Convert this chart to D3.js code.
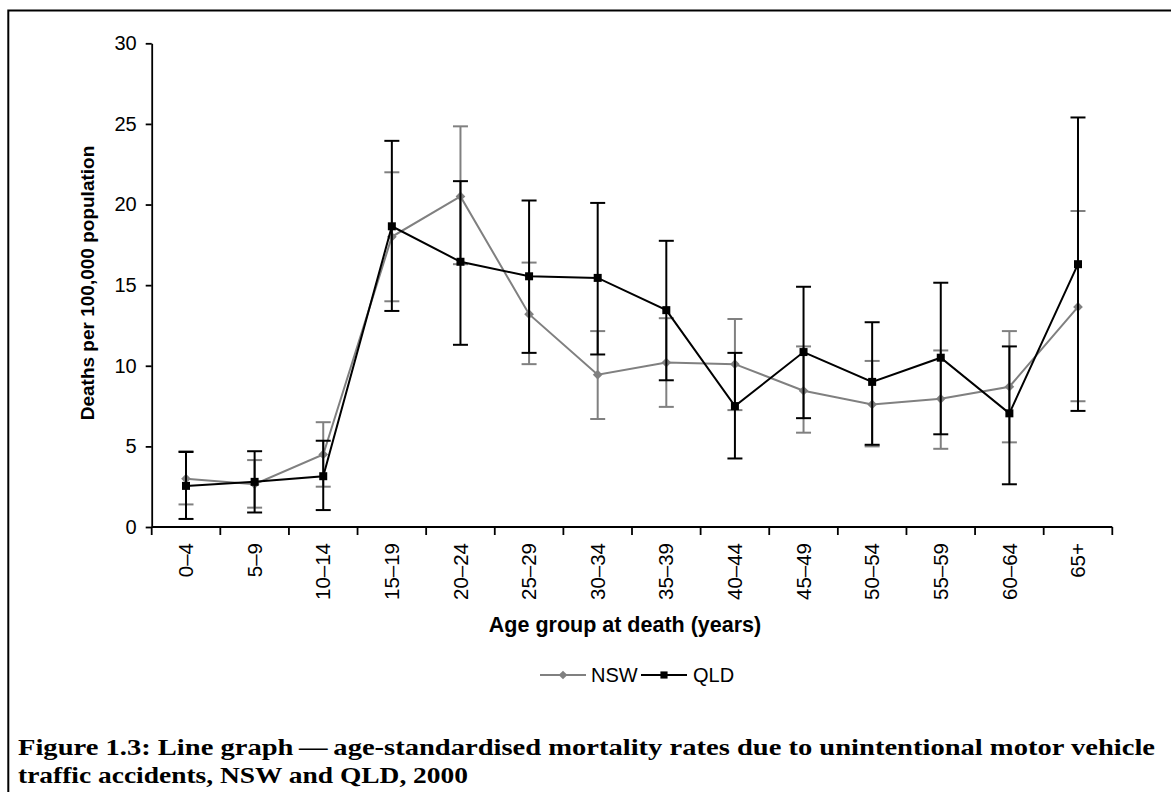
<!DOCTYPE html>
<html>
<head>
<meta charset="utf-8">
<script src="https://cdn.jsdelivr.net/npm/d3@7"></script>
<style>
  html, body { margin: 0; padding: 0; background: #fff; }
  svg { display: block; }
</style>
</head>
<body>
<script>
// ---- data ----
const categories = ["0–4","5–9","10–14","15–19","20–24","25–29","30–34","35–39","40–44","45–49","50–54","55–59","60–64","65+"];
const nsw     = [3.0, 2.65, 4.5, 18.0, 20.5, 13.2, 9.45, 10.2, 10.1, 8.45, 7.6, 7.95, 8.7, 13.65];
const nswLow  = [1.4, 1.2, 2.5, 14.0, 16.3, 10.1, 6.7, 7.45, 7.25, 5.85, 5.0, 4.85, 5.25, 7.8];
const nswHigh = [4.7, 4.15, 6.5, 22.0, 24.85, 16.4, 12.15, 12.95, 12.9, 11.2, 10.3, 10.95, 12.15, 19.6];
const qld     = [2.55, 2.8, 3.15, 18.65, 16.45, 15.55, 15.45, 13.45, 7.5, 10.85, 9.0, 10.5, 7.05, 16.3];
const qldLow  = [0.5, 0.9, 1.05, 13.4, 11.3, 10.8, 10.7, 9.1, 4.25, 6.75, 5.1, 5.75, 2.65, 7.2];
const qldHigh = [4.65, 4.7, 5.35, 23.95, 21.45, 20.25, 20.1, 17.75, 10.8, 14.9, 12.7, 15.15, 11.2, 25.4];
const yTicks  = [0, 5, 10, 15, 20, 25, 30];
const seriesNames = ["NSW", "QLD"];
const yTitle = "Deaths per 100,000 population";
const xTitle = "Age group at death (years)";
const captionLines = [
  "Figure 1.3: Line graph\u2009—\u2009age-standardised mortality rates due to unintentional motor vehicle",
  "traffic accidents, NSW and QLD, 2000"
];

// ---- layout ----
const W = 1171, H = 792;
const plot = { left: 151.7, right: 1112.3, top: 43.3, bottom: 527 };
const sansFont = "Arial, 'Liberation Sans', Helvetica, sans-serif";
const serifFont = "'Liberation Serif', 'Times New Roman', serif";
const GRAY = "#808080";

const svg = d3.select("body").append("svg").attr("width", W).attr("height", H);

// frame
svg.append("rect").attr("x", 8.3).attr("y", 10.5).attr("width", 1400).attr("height", 1000)
  .attr("fill", "none").attr("stroke", "#000").attr("stroke-width", 2);

const x = d3.scaleBand().domain(categories).range([plot.left, plot.right]).padding(0);
const y = d3.scaleLinear().domain([0, 30]).range([plot.bottom, plot.top]);
const cx = c => x(c) + x.bandwidth() / 2;

// y axis
const yAxis = svg.append("g").attr("transform", `translate(${plot.left},0)`)
  .call(d3.axisLeft(y).tickValues(yTicks).tickSize(6).tickSizeOuter(0).tickPadding(9));
yAxis.select(".domain").attr("stroke", "#000").attr("stroke-width", 1.8);
yAxis.selectAll(".tick line").attr("stroke", "#000").attr("stroke-width", 1.8);
yAxis.selectAll(".tick text").attr("font-family", sansFont).attr("font-size", 20).attr("fill", "#000");

// x axis (ticks at category boundaries, labels at centres)
const xAxisG = svg.append("g").attr("transform", `translate(0,${y(0)})`);
xAxisG.append("line").attr("x1", plot.left).attr("x2", plot.right).attr("stroke", "#000").attr("stroke-width", 1.8);
const boundaries = categories.map(c => x(c)).concat([x(categories[categories.length - 1]) + x.bandwidth()]);
xAxisG.selectAll("line.bt").data(boundaries).join("line").attr("class", "bt")
  .attr("x1", d => d).attr("x2", d => d).attr("y1", 0).attr("y2", 8)
  .attr("stroke", "#000").attr("stroke-width", 1.8);
xAxisG.selectAll("text.xl").data(categories).join("text").attr("class", "xl")
  .attr("transform", d => `translate(${cx(d)},16) rotate(-90)`)
  .attr("dy", "0.35em").attr("text-anchor", "end")
  .attr("font-family", sansFont).attr("font-size", 20.5).attr("fill", "#000")
  .text(d => d);

// axis titles
svg.append("text").attr("transform", `translate(94,283) rotate(-90)`)
  .attr("text-anchor", "middle").attr("font-family", sansFont).attr("font-weight", "bold")
  .attr("font-size", 19).text(yTitle);
svg.append("text").attr("x", 625).attr("y", 632)
  .attr("text-anchor", "middle").attr("font-family", sansFont).attr("font-weight", "bold")
  .attr("font-size", 21.5).text(xTitle);

// series
const series = [
  { name: seriesNames[0], vals: nsw, lo: nswLow, hi: nswHigh, color: GRAY, shape: d3.symbolDiamond2, size: 60 },
  { name: seriesNames[1], vals: qld, lo: qldLow, hi: qldHigh, color: "#000", shape: d3.symbolSquare, size: 64 }
];
const line = d3.line().x((d, i) => cx(categories[i])).y(d => y(d));

series.forEach(s => {
  const g = svg.append("g");
  // error bars
  categories.forEach((c, i) => {
    const xc = cx(c);
    g.append("line").attr("x1", xc).attr("x2", xc).attr("y1", y(s.lo[i])).attr("y2", y(s.hi[i]))
      .attr("stroke", s.color).attr("stroke-width", 2);
    [s.lo[i], s.hi[i]].forEach(v => {
      g.append("line").attr("x1", xc - 7.5).attr("x2", xc + 7.5).attr("y1", y(v)).attr("y2", y(v))
        .attr("stroke", s.color).attr("stroke-width", 2);
    });
  });
  g.append("path").datum(s.vals).attr("d", line).attr("fill", "none")
    .attr("stroke", s.color).attr("stroke-width", 2);
  g.selectAll("path.m").data(s.vals).join("path").attr("class", "m")
    .attr("transform", (d, i) => `translate(${cx(categories[i])},${y(d)})`)
    .attr("d", d3.symbol().type(s.shape).size(s.size)).attr("fill", s.color);
});

// legend
const legendItems = [
  { s: series[0], lineX: 540, textX: 591 },
  { s: series[1], lineX: 641, textX: 693 }
];
const ly = 675;
legendItems.forEach(it => {
  const g = svg.append("g");
  g.append("line").attr("x1", it.lineX).attr("x2", it.lineX + 46).attr("y1", ly).attr("y2", ly)
    .attr("stroke", it.s.color).attr("stroke-width", 2);
  g.append("path").attr("transform", `translate(${it.lineX + 23},${ly})`)
    .attr("d", d3.symbol().type(it.s.shape).size(it.s.size * 0.8)).attr("fill", it.s.color);
  g.append("text").attr("x", it.textX).attr("y", ly).attr("dy", "0.35em")
    .attr("font-family", sansFont).attr("font-size", 20).text(it.s.name);
});

// caption
svg.append("text").attr("x", 18).attr("y", 755)
  .attr("font-family", serifFont).attr("font-weight", "bold").attr("font-size", 24)
  .attr("textLength", 1137).attr("lengthAdjust", "spacingAndGlyphs")
  .text(captionLines[0]);
svg.append("text").attr("x", 18).attr("y", 783)
  .attr("font-family", serifFont).attr("font-weight", "bold").attr("font-size", 24)
  .attr("textLength", 450).attr("lengthAdjust", "spacingAndGlyphs")
  .text(captionLines[1]);
</script>
</body>
</html>
